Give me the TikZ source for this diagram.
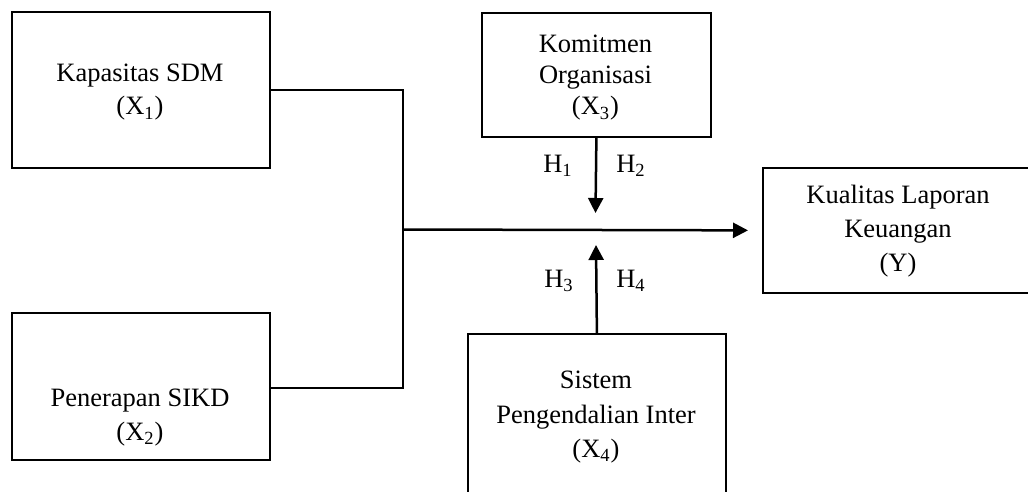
\documentclass[tikz,border=0pt]{standalone}
\usepackage{fontspec}
\setmainfont{Liberation Serif}
\usetikzlibrary{arrows.meta}
\begin{document}
\begin{tikzpicture}[x=0.5pt,y=-0.5pt,
  box/.style={draw,line width=0.9pt,rectangle,inner sep=0pt,anchor=north west},
  conn/.style={line width=1.25pt},
  arr/.style={conn,-{Triangle[length=7.5pt,width=7.5pt]}},
  lbl/.style={inner sep=0pt,anchor=base,font=\fontsize{13.25}{16}\selectfont}]
\useasboundingbox (0,0) rectangle (1028,492);
\clip (0,0) rectangle (1028,492);
% boxes
\node[box,minimum width=129pt,minimum height=78pt] (x1) at (11,11) {};
\node[box,minimum width=129pt,minimum height=73.5pt] (x2) at (11,312) {};
\node[box,minimum width=114.5pt,minimum height=62pt] (x3) at (481,12) {};
\node[box,minimum width=136pt,minimum height=62.5pt] (y) at (762,167) {};
\node[box,minimum width=129pt,minimum height=93.5pt] (x4) at (467,333) {};
% texts
\node[lbl] (t1a) at (140,82) {Kapasitas SDM};
\node[lbl] (t1b) at (140,115) {(X\textsubscript{1})};
\node[lbl] (t2a) at (140,406) {Penerapan SIKD};
\node[lbl] (t2b) at (140,440) {(X\textsubscript{2})};
\node[lbl] (t3a) at (595.5,53) {Komitmen};
\node[lbl] (t3b) at (595.5,84) {Organisasi};
\node[lbl] (t3c) at (595.5,115) {(X\textsubscript{3})};
\node[lbl] (tya) at (898,203) {Kualitas Laporan};
\node[lbl] (tyb) at (898,237) {Keuangan};
\node[lbl] (tyc) at (898,271) {(Y)};
\node[lbl] (t4a) at (596,388) {Sistem};
\node[lbl] (t4b) at (596,423) {Pengendalian Inter};
\node[lbl] (t4c) at (596,457) {(X\textsubscript{4})};
\node[lbl] (h1) at (558,172) {H\textsubscript{1}};
\node[lbl] (h2) at (631,172) {H\textsubscript{2}};
\node[lbl] (h3) at (559,287) {H\textsubscript{3}};
\node[lbl] (h4) at (631,287) {H\textsubscript{4}};
% connectors
\coordinate (jb) at (403,388);
\coordinate (jm) at (403,229.5);
\coordinate (tip3) at (595.5,213);
\coordinate (tip4) at (596,245);
\draw[conn] (x1.east) -| (jb) -- (x2.east |- jb);
\draw[arr,shorten >=7pt] (jm) -- (y.west);
\draw[arr] (x3.south) -- (tip3);
\draw[arr] (x4.north) -- (tip4);
\end{tikzpicture}
\end{document}
